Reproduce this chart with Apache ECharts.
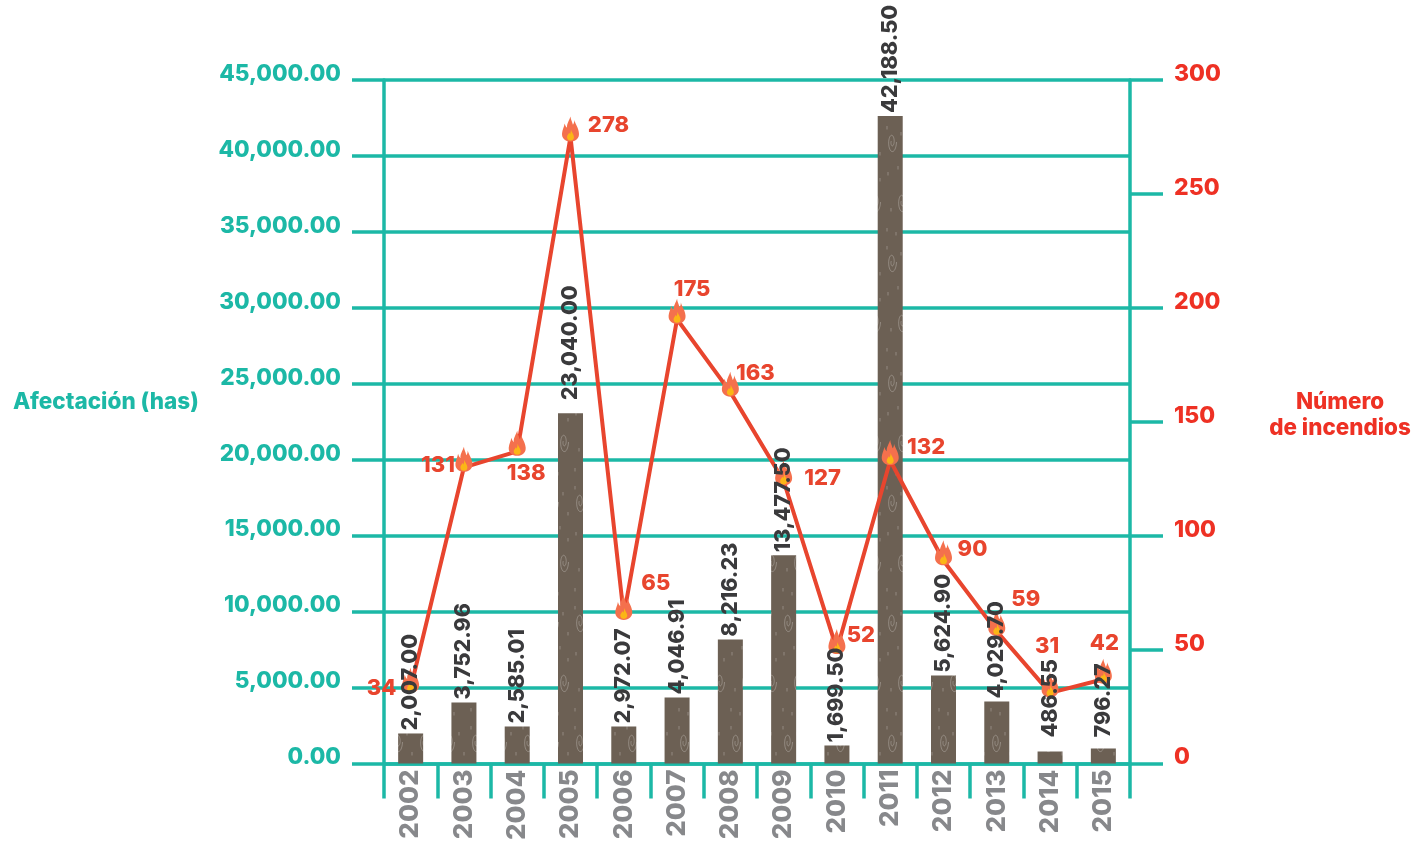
<!DOCTYPE html>
<html><head><meta charset="utf-8">
<style>html,body{margin:0;padding:0;background:#fff}#c{width:1416px;height:841px}</style>
<script src="https://cdn.jsdelivr.net/npm/echarts@6/dist/echarts.min.js"></script>
</head><body><div id="c"></div>
<script>
const years = ['2002','2003','2004','2005','2006','2007','2008','2009','2010','2011','2012','2013','2014','2015'];
// Bar heights as drawn in the picture (left axis)
const barHeights = [1977,4019,2438,23060,2438,4348,8170,13704,1186,42628,5798,4085,790,988];
// Value labels printed above the bars
const barLabels = ['2,007.00','3,752.96','2,585.01','23,040.00','2,972.07','4,046.91','8,216.23','13,477.50','1,699.50','42,188.50','5,624.90','4,029.70','486.55','796.27'];
// Fire line points as drawn in the picture (right axis)
const firePoints = [33,130,137,275,65,195,163,124,50,133,89,58,31,37];
// Numbers printed beside the flames
const fireLabels = ['34','131','138','278','65','175','163','127','52','132','90','59','31','42'];
const leftTicks = 45000, rightTicks = 300;

const labelShift = [[-29,0],[-26,-2],[9,22],[38,-12],[32,-32],[15,-30],[25,-19],[39,-3],[24,-14],[36,-13],[29,-11],[29,-32],[-3,-46],[1,-36]];
const labelGap = [3,3,3,13,3,3,3,3,3,3,3,3,14,11];
const TEAL='#1cb8a6', RED='#e8452e', AXRED='#ee3124', GREY='#87888b', DARK='#3a3a3c', BARC='#6c6054';
const FONT='Inter';
const flameOuter='path://M50 0C52 22 60 30 64 50C70 42 72 34 72 22C78 48 96 66 99 100C102 130 80 150 50 150C20 150 -2 130 1 100C3 80 12 66 16 42C20 56 24 62 30 68C28 42 42 26 50 0Z';
const flameInner='path://M55 0C58 25 85 45 85 70C85 88 70 100 50 100C30 100 15 88 15 70C15 50 32 45 36 30C42 36 46 40 46 44C50 30 54 15 55 0Z';

function barPattern(){
  const c=document.createElement('canvas'); c.width=26; c.height=120;
  const g=c.getContext('2d');
  g.fillStyle=BARC; g.fillRect(0,0,26,120);
  g.strokeStyle='rgba(205,200,195,.5)'; g.lineWidth=.8;
  const spiral=(cx,cy,rx,ry)=>{g.beginPath();for(let a=0;a<10;a+=.2){const q=1-a/12;const x=cx+Math.cos(a)*q*rx,y=cy+Math.sin(a)*q*ry;a?g.lineTo(x,y):g.moveTo(x,y);}g.stroke();};
  spiral(8,22,4.5,11); spiral(18,82,4.5,11);
  [[3,6],[17,12],[22,32],[14,46],[4,52],[22,58],[7,88],[3,108],[12,112]].forEach(p=>{g.beginPath();g.moveTo(p[0],p[1]);g.lineTo(p[0],p[1]+3.5);g.stroke();});
  return c;
}

const chart=echarts.init(document.getElementById('c'),null,{renderer:'canvas'});
chart.setOption({
  animation:false,
  backgroundColor:'#fff',
  grid:{left:384,right:286,top:80,bottom:77.5,containLabel:false,outerBoundsMode:'none'},
  xAxis:{type:'category',data:years,boundaryGap:true,
    axisLine:{show:true,lineStyle:{color:TEAL,width:3.5}},
    axisTick:{show:true,length:35,alignWithLabel:false,lineStyle:{color:TEAL,width:3.5}},
    axisLabel:{rotate:90,interval:0,margin:6,color:GREY,fontFamily:FONT,fontWeight:800,fontSize:26},
    splitLine:{show:false}},
  yAxis:[
    {type:'value',min:0,max:leftTicks,interval:5000,position:'left',
     axisLine:{show:true,lineStyle:{color:TEAL,width:3.5}},
     axisTick:{show:true,length:32,lineStyle:{color:TEAL,width:3.5}},
     splitLine:{show:true,lineStyle:{color:TEAL,width:3.5}},
     axisLabel:{margin:43,color:TEAL,fontFamily:FONT,fontWeight:800,fontSize:22.6,verticalAlign:'bottom',lineHeight:12,
       formatter:v=>v.toLocaleString('en-US',{minimumFractionDigits:2,maximumFractionDigits:2})}},
    {type:'value',min:0,max:rightTicks,interval:50,position:'right',
     axisLine:{show:true,lineStyle:{color:TEAL,width:3.5}},
     axisTick:{show:true,length:33,lineStyle:{color:TEAL,width:3.5}},
     splitLine:{show:false},
     axisLabel:{margin:44,color:AXRED,fontFamily:FONT,fontWeight:800,fontSize:23,verticalAlign:'bottom',lineHeight:12}}
  ],
  series:[
    {type:'bar',data:barHeights,barWidth:25,z:2,itemStyle:{color:{image:barPattern(),repeat:'repeat'}}},
    {type:'line',yAxisIndex:1,data:firePoints,z:3,showSymbol:true,symbol:flameOuter,symbolSize:[17,25],symbolOffset:[0,-8],
     lineStyle:{color:RED,width:4},itemStyle:{color:'#f4704d'}},
    {type:'scatter',yAxisIndex:1,data:firePoints,z:4,symbol:flameInner,symbolSize:[7,11],symbolOffset:[0,-2],itemStyle:{color:'#fbb616',opacity:1}},
    {type:'scatter',yAxisIndex:1,z:5,symbolSize:1,itemStyle:{color:'rgba(0,0,0,0)',opacity:1},
     data:firePoints.map((v,i)=>({value:v,label:{show:true,position:'inside',offset:labelShift[i],formatter:fireLabels[i],color:RED,opacity:1,fontFamily:FONT,fontWeight:800,fontSize:22}}))},
    {type:'bar',data:barHeights.map((v,i)=>({value:v,label:{formatter:barLabels[i],distance:labelGap[i]}})),barWidth:25,barGap:'-100%',z:6,
     itemStyle:{color:'transparent'},
     label:{show:true,position:'top',rotate:90,align:'left',verticalAlign:'middle',color:DARK,fontFamily:FONT,fontWeight:800,fontSize:21.5}}
  ],
  graphic:[
    {type:'text',x:13,y:402,style:{text:'Afectación (has)',fill:TEAL,font:'800 22.5px '+FONT,verticalAlign:'middle'}},
    {type:'text',x:1340,y:402,style:{text:'Número',fill:AXRED,font:'800 22.4px '+FONT,align:'center',verticalAlign:'middle'}},
    {type:'text',x:1340,y:428,style:{text:'de incendios',fill:AXRED,font:'800 22.4px '+FONT,align:'center',verticalAlign:'middle'}}
  ]
});
</script></body></html>
